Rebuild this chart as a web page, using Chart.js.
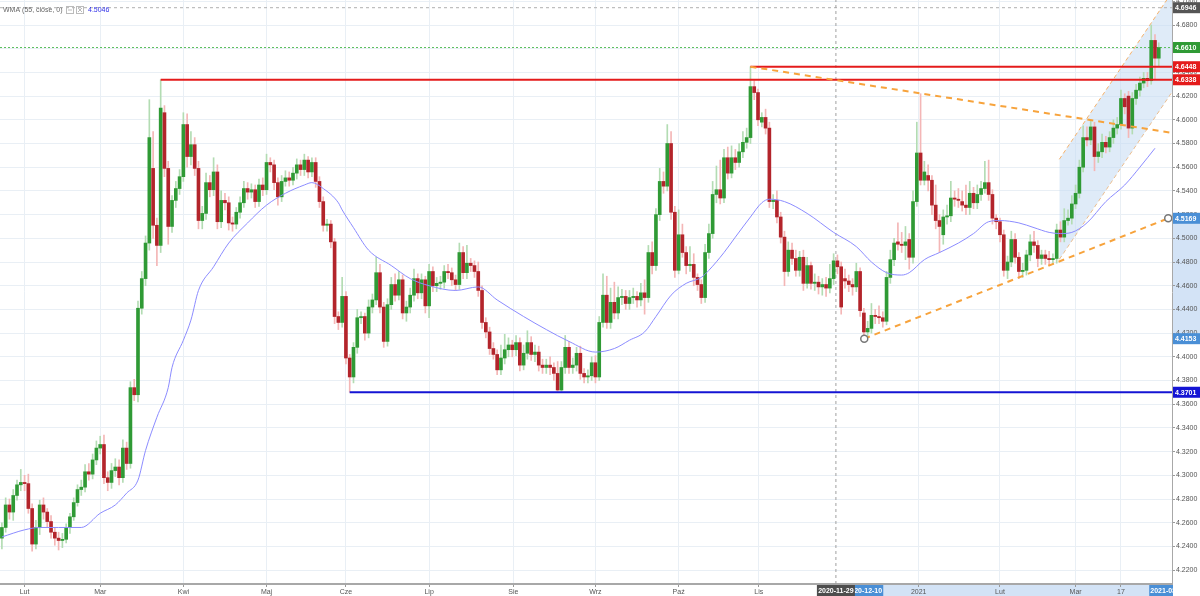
<!DOCTYPE html>
<html>
<head>
<meta charset="utf-8">
<script src="https://cdn.jsdelivr.net/npm/chart.js@4"></script>
<style>
  html, body { margin: 0; padding: 0; background: #fff; }
  #wrap { width: 1200px; height: 596px; }
</style>
</head>
<body>
<div id="wrap"><canvas id="chart" width="1200" height="596"></canvas></div>
<script>
// daily candles, late Jan 2020 .. end of Mar 2021 (index = trading day)
const opens = [
  4.247,4.256,4.275,4.269,4.283,4.292,4.294,4.293,4.272,4.242,
  4.256,4.275,4.269,4.261,4.252,4.247,4.245,4.246,4.256,4.265,
  4.277,4.288,4.290,4.303,4.301,4.313,4.323,4.326,4.298,4.294,
  4.304,4.307,4.298,4.323,4.310,4.374,4.368,4.441,4.466,4.496,
  4.559,4.511,4.494,4.606,4.559,4.510,4.532,4.542,4.552,4.596,
  4.569,4.579,4.559,4.515,4.521,4.547,4.541,4.556,4.514,4.532,
  4.530,4.513,4.512,4.522,4.530,4.542,4.539,4.541,4.531,4.545,
  4.541,4.564,4.562,4.547,4.535,4.548,4.551,4.549,4.555,4.562,
  4.558,4.566,4.556,4.564,4.548,4.531,4.511,4.512,4.497,4.434,
  4.429,4.451,4.399,4.383,4.408,4.433,4.434,4.420,4.442,4.448,
  4.471,4.442,4.413,4.444,4.461,4.452,4.465,4.437,4.442,4.452,
  4.466,4.454,4.465,4.443,4.472,4.460,4.462,4.463,4.472,4.471,
  4.465,4.461,4.488,4.471,4.479,4.477,4.472,4.456,4.429,4.421,
  4.407,4.402,4.389,4.399,4.406,4.410,4.406,4.412,4.393,4.403,
  4.412,4.402,4.404,4.393,4.391,4.393,4.391,4.386,4.372,4.391,
  4.408,4.391,4.393,4.403,4.386,4.383,4.384,4.395,4.383,4.429,
  4.452,4.429,4.446,4.437,4.450,4.451,4.445,4.450,4.451,4.448,
  4.454,4.450,4.488,4.477,4.520,4.548,4.544,4.580,4.522,4.473,
  4.503,4.488,4.477,4.478,4.467,4.461,4.450,4.488,4.504,4.537,
  4.541,4.534,4.568,4.555,4.568,4.564,4.573,4.581,4.585,4.628,
  4.623,4.598,4.602,4.593,4.531,4.532,4.518,4.501,4.472,4.490,
  4.483,4.473,4.484,4.462,4.477,4.462,4.463,4.459,4.461,4.458,
  4.466,4.481,4.476,4.466,4.464,4.461,4.459,4.472,4.437,4.421,
  4.424,4.435,4.434,4.433,4.430,4.467,4.482,4.497,4.495,4.494,
  4.499,4.484,4.531,4.572,4.549,4.553,4.549,4.528,4.515,4.503,
  4.518,4.519,4.534,4.533,4.531,4.528,4.526,4.538,4.530,4.537,
  4.542,4.547,4.537,4.517,4.514,4.503,4.473,4.480,4.499,4.484,
  4.472,4.473,4.486,4.497,4.494,4.483,4.486,4.483,4.482,4.483,
  4.507,4.501,4.515,4.517,4.529,4.538,4.560,4.585,4.583,4.594,
  4.569,4.573,4.581,4.577,4.585,4.593,4.596,4.618,4.620,4.593,
  4.618,4.625,4.631,4.635,4.633,4.667,4.652
];
const highs = [
  4.260,4.281,4.280,4.288,4.296,4.305,4.300,4.301,4.276,4.262,
  4.279,4.281,4.272,4.266,4.256,4.252,4.251,4.259,4.268,4.281,
  4.292,4.296,4.309,4.310,4.318,4.329,4.333,4.334,4.303,4.310,
  4.314,4.313,4.330,4.328,4.379,4.381,4.447,4.472,4.502,4.617,
  4.590,4.517,4.6338,4.612,4.565,4.536,4.548,4.558,4.606,4.605,
  4.590,4.585,4.565,4.527,4.555,4.553,4.568,4.562,4.540,4.538,
  4.535,4.518,4.526,4.535,4.548,4.547,4.546,4.545,4.550,4.551,
  4.571,4.568,4.566,4.551,4.553,4.557,4.556,4.560,4.567,4.566,
  4.571,4.569,4.568,4.568,4.552,4.535,4.516,4.515,4.500,4.438,
  4.467,4.455,4.402,4.412,4.440,4.438,4.437,4.448,4.453,4.484,
  4.478,4.446,4.449,4.467,4.470,4.472,4.469,4.447,4.458,4.474,
  4.470,4.470,4.468,4.478,4.476,4.467,4.468,4.477,4.478,4.475,
  4.469,4.496,4.493,4.494,4.483,4.481,4.480,4.460,4.433,4.425,
  4.412,4.406,4.410,4.419,4.416,4.414,4.418,4.416,4.410,4.422,
  4.417,4.410,4.409,4.398,4.398,4.400,4.395,4.396,4.396,4.418,
  4.413,4.399,4.408,4.409,4.390,4.389,4.400,4.401,4.434,4.470,
  4.468,4.458,4.463,4.459,4.457,4.456,4.456,4.458,4.455,4.462,
  4.465,4.494,4.497,4.525,4.559,4.556,4.596,4.590,4.527,4.524,
  4.512,4.493,4.493,4.487,4.470,4.465,4.495,4.512,4.548,4.561,
  4.566,4.575,4.577,4.578,4.575,4.580,4.590,4.593,4.6448,4.633,
  4.626,4.606,4.609,4.598,4.537,4.540,4.522,4.506,4.497,4.496,
  4.490,4.489,4.490,4.484,4.480,4.470,4.468,4.466,4.467,4.478,
  4.487,4.486,4.480,4.474,4.469,4.466,4.479,4.475,4.441,4.430,
  4.445,4.440,4.443,4.438,4.472,4.490,4.500,4.513,4.505,4.510,
  4.504,4.540,4.598,4.622,4.565,4.562,4.553,4.545,4.520,4.524,
  4.528,4.548,4.540,4.542,4.540,4.545,4.548,4.543,4.545,4.548,
  4.565,4.566,4.541,4.520,4.517,4.507,4.485,4.506,4.504,4.488,
  4.479,4.490,4.503,4.506,4.498,4.490,4.490,4.489,4.487,4.512,
  4.514,4.525,4.524,4.536,4.545,4.566,4.595,4.594,4.600,4.598,
  4.580,4.588,4.586,4.590,4.600,4.602,4.625,4.622,4.624,4.623,
  4.630,4.636,4.640,4.640,4.680,4.672,4.665
];
const lows = [
  4.238,4.252,4.263,4.262,4.279,4.287,4.287,4.268,4.236,4.238,
  4.250,4.263,4.256,4.247,4.241,4.237,4.239,4.243,4.251,4.262,
  4.274,4.283,4.286,4.296,4.297,4.309,4.318,4.293,4.287,4.289,
  4.299,4.292,4.294,4.305,4.306,4.363,4.362,4.436,4.460,4.490,
  4.500,4.477,4.488,4.552,4.495,4.505,4.526,4.537,4.548,4.560,
  4.562,4.553,4.508,4.508,4.516,4.535,4.536,4.508,4.509,4.524,
  4.507,4.506,4.508,4.517,4.526,4.533,4.534,4.526,4.527,4.536,
  4.537,4.556,4.541,4.528,4.531,4.544,4.544,4.545,4.550,4.553,
  4.553,4.551,4.552,4.543,4.526,4.506,4.506,4.492,4.428,4.423,
  4.425,4.394,4.3701,4.378,4.403,4.428,4.414,4.416,4.437,4.444,
  4.437,4.408,4.409,4.440,4.447,4.448,4.432,4.430,4.437,4.447,
  4.449,4.449,4.437,4.433,4.455,4.455,4.457,4.458,4.466,4.460,
  4.456,4.457,4.466,4.466,4.472,4.467,4.451,4.424,4.416,4.402,
  4.398,4.385,4.385,4.394,4.400,4.400,4.401,4.388,4.389,4.398,
  4.397,4.396,4.388,4.386,4.386,4.385,4.380,4.371,4.371,4.386,
  4.386,4.386,4.388,4.381,4.378,4.378,4.380,4.378,4.380,4.425,
  4.424,4.424,4.432,4.432,4.444,4.440,4.440,4.445,4.442,4.443,
  4.436,4.446,4.470,4.473,4.515,4.538,4.540,4.516,4.467,4.470,
  4.484,4.470,4.472,4.460,4.456,4.445,4.446,4.483,4.500,4.530,
  4.529,4.530,4.550,4.551,4.558,4.560,4.568,4.576,4.580,4.617,
  4.595,4.594,4.588,4.526,4.525,4.513,4.496,4.460,4.468,4.478,
  4.468,4.468,4.456,4.458,4.457,4.456,4.453,4.452,4.451,4.454,
  4.461,4.470,4.436,4.458,4.455,4.452,4.455,4.434,4.4153,4.417,
  4.420,4.428,4.428,4.425,4.427,4.462,4.477,4.490,4.488,4.482,
  4.474,4.479,4.527,4.545,4.545,4.540,4.520,4.508,4.488,4.495,
  4.512,4.514,4.527,4.526,4.523,4.520,4.520,4.525,4.525,4.532,
  4.538,4.532,4.512,4.508,4.497,4.468,4.466,4.476,4.479,4.466,
  4.467,4.469,4.481,4.488,4.476,4.478,4.478,4.477,4.478,4.479,
  4.497,4.497,4.511,4.512,4.525,4.534,4.556,4.578,4.579,4.557,
  4.564,4.568,4.572,4.573,4.580,4.588,4.592,4.605,4.585,4.588,
  4.613,4.620,4.627,4.628,4.630,4.634,4.645
];
const closes = [
  4.256,4.275,4.269,4.283,4.292,4.294,4.293,4.272,4.242,4.256,
  4.275,4.269,4.261,4.252,4.247,4.245,4.246,4.256,4.265,4.277,
  4.288,4.290,4.303,4.301,4.313,4.323,4.326,4.298,4.294,4.304,
  4.307,4.298,4.323,4.310,4.374,4.368,4.441,4.466,4.496,4.585,
  4.511,4.494,4.610,4.559,4.510,4.532,4.542,4.552,4.596,4.569,
  4.579,4.559,4.515,4.521,4.547,4.541,4.556,4.514,4.532,4.530,
  4.513,4.512,4.522,4.530,4.542,4.539,4.541,4.531,4.545,4.541,
  4.564,4.562,4.547,4.535,4.548,4.551,4.549,4.555,4.562,4.558,
  4.566,4.556,4.564,4.548,4.531,4.511,4.512,4.497,4.434,4.429,
  4.451,4.399,4.383,4.408,4.433,4.434,4.420,4.442,4.448,4.471,
  4.442,4.413,4.444,4.461,4.452,4.465,4.437,4.442,4.452,4.466,
  4.454,4.465,4.443,4.472,4.460,4.462,4.463,4.472,4.471,4.465,
  4.461,4.488,4.471,4.479,4.477,4.472,4.456,4.429,4.421,4.407,
  4.402,4.389,4.399,4.406,4.410,4.406,4.412,4.393,4.403,4.412,
  4.402,4.404,4.393,4.391,4.393,4.391,4.386,4.372,4.391,4.408,
  4.391,4.393,4.403,4.386,4.383,4.384,4.395,4.383,4.429,4.452,
  4.429,4.446,4.437,4.450,4.451,4.445,4.450,4.451,4.448,4.454,
  4.450,4.488,4.477,4.520,4.548,4.544,4.580,4.522,4.473,4.503,
  4.488,4.477,4.478,4.467,4.461,4.450,4.488,4.504,4.537,4.541,
  4.534,4.568,4.555,4.568,4.564,4.573,4.581,4.585,4.628,4.623,
  4.600,4.602,4.593,4.531,4.532,4.518,4.501,4.472,4.490,4.483,
  4.473,4.484,4.462,4.477,4.462,4.463,4.459,4.461,4.458,4.466,
  4.481,4.476,4.442,4.464,4.461,4.459,4.472,4.439,4.421,4.424,
  4.435,4.434,4.433,4.430,4.467,4.482,4.496,4.495,4.494,4.497,
  4.484,4.531,4.572,4.549,4.556,4.549,4.528,4.515,4.510,4.518,
  4.519,4.534,4.533,4.532,4.528,4.526,4.538,4.530,4.537,4.542,
  4.547,4.537,4.517,4.514,4.503,4.473,4.480,4.499,4.484,4.472,
  4.473,4.486,4.497,4.494,4.483,4.486,4.483,4.482,4.483,4.507,
  4.501,4.515,4.517,4.529,4.538,4.560,4.585,4.583,4.594,4.569,
  4.573,4.581,4.577,4.585,4.593,4.596,4.618,4.611,4.593,4.618,
  4.625,4.631,4.635,4.633,4.667,4.652,4.661
];

// WMA(55)
const wmaIdx = [0,6,10,15,21,26,30,33,36,38,41,44,45,48,50,52,56,60,65,70,75,80,82,85,89,
  90,93,97,103,108,113,120,126,131,138,144,150,157,162,166,170,173,177,181,185,187,191,194,198,201,
  203,207,213,220,226,230,234,238,240,244,248,253,257,261,264,269,273,277,280,283,287,292,297,301,305];
const wmaVal = [4.248,4.254,4.256,4.256,4.256,4.268,4.275,4.285,4.296,4.321,4.349,4.374,4.391,4.414,4.431,
  4.456,4.476,4.496,4.513,4.528,4.538,4.545,4.547,4.542,4.530,4.524,4.509,4.490,4.477,4.466,
  4.460,4.456,4.459,4.448,4.434,4.423,4.413,4.404,4.407,4.414,4.421,4.434,4.452,4.462,4.467,
  4.473,4.488,4.501,4.518,4.530,4.533,4.531,4.521,4.505,4.493,4.480,4.471,4.469,4.471,4.482,
  4.488,4.496,4.504,4.514,4.515,4.513,4.509,4.505,4.504,4.505,4.513,4.531,4.545,4.560,4.576];

// axis ticks
const tickIdx = [6, 26, 48, 70, 91, 113, 135.3, 157, 179, 200.2, 242.5, 264, 284, 296];
const tickLabels = ['Lut','Mar','Kwi','Maj','Cze','Lip','Sie','Wrz','Paź','Lis','2021','Lut','Mar','17'];
const priceTicks = [4.22,4.24,4.26,4.28,4.30,4.32,4.34,4.36,4.38,4.40,4.42,4.44,4.46,4.48,
  4.50,4.52,4.54,4.56,4.58,4.60,4.62,4.64,4.66,4.68,4.70];

// drawings on the chart
const X_MIN = -0.5, X_MAX = 309.5, Y_MIN = 4.2083, Y_MAX = 4.7011;
const resistanceLine = [[198, 4.6448], [309.5, 4.589]];
const supportLine = [[228.1, 4.4153], [308.5, 4.5169]];
const channelUpper = [[279.7, 4.5667], [309.5, 4.7077]];
const channelLower = [[279.7, 4.4823], [309.5, 4.6235]];
const cursorIdx = 220.6;
const topLevel = 4.6946, lastPrice = 4.6610;
const redLevels = [4.6448, 4.6338], redFrom = [198, 42];
const blueLevel = 4.3701, blueFrom = 92;
const axisMarks = [
  [4.6946, '#555555'], [4.6610, '#2f9a35'], [4.6448, '#e41b1b'], [4.6338, '#e41b1b'],
  [4.5169, '#4a8fd6'], [4.4153, '#4a8fd6'], [4.3701, '#1414d4']
];

const FONT = '"Liberation Sans", Arial, sans-serif';
const bull = closes.map((c, i) => c >= opens[i]);
const pts = arr => arr.map(p => ({ x: p[0], y: p[1] }));
const hline = (v, from) => [{ x: from, y: v }, { x: X_MAX, y: v }];

function lineDs(data, color, width, dash, order, extra) {
  return Object.assign({
    type: 'line', data: data, borderColor: color, borderWidth: width,
    borderDash: dash, pointRadius: 0, fill: false, order: order
  }, extra || {});
}

const datasets = [
  // trend channel (filled between the two parallel lines)
  lineDs(pts(channelUpper), '#f6b26b', 1, [4, 3], 20, { fill: '+1', backgroundColor: 'rgba(196,218,242,0.55)' }),
  lineDs(pts(channelLower), '#f6b26b', 1, [4, 3], 20),
  lineDs([{ x: cursorIdx, y: Y_MIN }, { x: cursorIdx, y: Y_MAX }], '#a0a0a0', 1, [3, 3], 19),
  lineDs(hline(topLevel, X_MIN), '#b0b0b0', 1, [3, 3], 19),
  lineDs(hline(lastPrice, X_MIN), '#5cbf5c', 1, [2, 2], 19),
  {
    type: 'bar',
    data: highs.map((h, i) => ({ x: i, y: [lows[i], h] })),
    backgroundColor: bull.map(b => b ? '#b3dcb3' : '#f4b6b6'),
    barThickness: 1, grouped: false, order: 11
  },
  {
    type: 'bar',
    data: opens.map((o, i) => ({ x: i, y: [o, closes[i]] })),
    backgroundColor: bull.map(b => b ? '#2f9a35' : '#b3242b'),
    barThickness: 3, minBarLength: 1, grouped: false, order: 10
  },
  lineDs(wmaIdx.map((x, k) => ({ x: x, y: wmaVal[k] })), '#8c8cff', 1, [], 5,
    { cubicInterpolationMode: 'monotone' }),
  lineDs(hline(redLevels[0], redFrom[0]), '#e41b1b', 2, [], 4),
  lineDs(hline(redLevels[1], redFrom[1]), '#e41b1b', 2, [], 4),
  lineDs(hline(blueLevel, blueFrom), '#1414d4', 2, [], 4),
  lineDs(pts(resistanceLine), '#f7a33c', 2, [6, 5], 3),
  lineDs(pts(supportLine), '#f7a33c', 2, [6, 5], 3, {
    pointRadius: 3.5, pointBackgroundColor: '#fff', pointBorderColor: '#777', pointBorderWidth: 1.5
  })
];

const overlay = {
  id: 'overlay',
  beforeDraw(chart) {
    const { ctx, chartArea: a, scales: { x, y } } = chart;
    ctx.save();
    ctx.fillStyle = '#fff';
    ctx.fillRect(0, 0, chart.width, chart.height);
    ctx.fillStyle = '#d3e3f6';
    const y1 = y.getPixelForValue(supportLine[1][1]), y2 = y.getPixelForValue(supportLine[0][1]);
    ctx.fillRect(a.right + 1, y1, chart.width - a.right, y2 - y1);
    const x1 = x.getPixelForValue(supportLine[0][0]);
    ctx.fillRect(x1, a.bottom + 1, a.right - x1, chart.height - a.bottom);
    ctx.restore();
  },
  afterDraw(chart) {
    const { ctx, chartArea: a, scales: { x, y } } = chart;
    ctx.save();
    ctx.textBaseline = 'middle';
    ctx.font = 'bold 7px ' + FONT;
    // price boxes on the right axis
    axisMarks.forEach(([v, bg]) => {
      const py = y.getPixelForValue(v);
      ctx.fillStyle = bg;
      ctx.fillRect(a.right + 1, py - 5.5, chart.width - a.right - 1, 11);
      ctx.fillStyle = '#fff';
      ctx.textAlign = 'left';
      ctx.fillText(v.toFixed(4), a.right + 3, py + 0.5);
    });
    // date boxes on the time axis
    ctx.save();
    ctx.beginPath();
    ctx.rect(0, a.bottom, a.right + 1, chart.height - a.bottom);
    ctx.clip();
    ctx.textAlign = 'center';
    [[supportLine[0][0], '2020-12-10', '#4a8fd6'],
     [supportLine[1][0], '2021-03-31', '#4a8fd6'],
     [cursorIdx, '2020-11-29', '#4d4d4d']].forEach(([v, txt, bg]) => {
      const px = x.getPixelForValue(v);
      ctx.fillStyle = bg;
      ctx.fillRect(px - 19, a.bottom + 1, 38, chart.height - a.bottom - 1);
      ctx.fillStyle = '#fff';
      ctx.fillText(txt, px, a.bottom + 7);
    });
    ctx.restore();
    // indicator caption
    ctx.font = '7px ' + FONT;
    ctx.textAlign = 'left';
    ctx.fillStyle = '#666';
    ctx.fillText('WMA (55, close, 0)', 3, 10);
    ctx.strokeStyle = '#bbb';
    ctx.lineWidth = 1;
    ctx.strokeRect(66.5, 6.5, 7, 7);
    ctx.strokeRect(76.5, 6.5, 7, 7);
    ctx.beginPath();
    ctx.moveTo(78, 8); ctx.lineTo(82, 12); ctx.moveTo(82, 8); ctx.lineTo(78, 12);
    ctx.moveTo(68, 10); ctx.lineTo(72, 10);
    ctx.stroke();
    ctx.fillStyle = '#3030e8';
    ctx.fillText('4.5046', 88, 10);
    ctx.restore();
  }
};

new Chart(document.getElementById('chart'), {
  type: 'bar',
  data: { datasets: datasets },
  options: {
    responsive: false,
    animation: false,
    events: [],
    layout: { padding: 0, autoPadding: false },
    plugins: { legend: { display: false }, tooltip: { enabled: false } },
    scales: {
      x: {
        type: 'linear', min: X_MIN, max: X_MAX, offset: false,
        grid: { offset: false, color: '#e9eff5', tickLength: 3, tickColor: '#999' },
        border: { color: '#a8a8a8', width: 2 },
        ticks: {
          autoSkip: false, maxRotation: 0, padding: 1, color: '#555',
          font: { size: 7, family: FONT },
          callback: (v, i) => tickLabels[i]
        },
        afterBuildTicks: s => { s.ticks = tickIdx.map(v => ({ value: v })); },
        afterFit: s => { s.height = 12; s.paddingLeft = 0; s.paddingRight = 0; }
      },
      y: {
        type: 'linear', position: 'right', min: Y_MIN, max: Y_MAX,
        grid: { color: '#e9eff5', tickLength: 3, tickColor: '#999' },
        border: { color: '#a8a8a8', width: 1 },
        ticks: {
          padding: 1, color: '#555', font: { size: 7, family: FONT },
          callback: v => Number(v).toFixed(4)
        },
        afterBuildTicks: s => { s.ticks = priceTicks.map(v => ({ value: v })); },
        afterFit: s => { s.width = 28; s.paddingTop = 0; s.paddingBottom = 0; }
      }
    }
  },
  plugins: [overlay]
});
</script>
</body>
</html>
